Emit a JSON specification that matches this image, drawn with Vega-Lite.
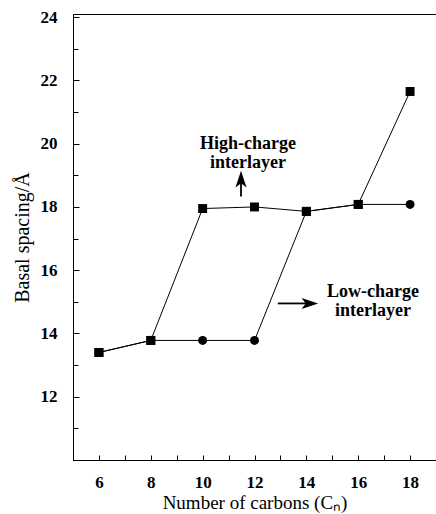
{
  "$schema": "https://vega.github.io/schema/vega-lite/v6.json",
  "width": 363,
  "height": 446,
  "autosize": {"type": "none"},
  "padding": {"left": 73, "top": 14, "right": 0, "bottom": 54},
  "background": "white",
  "config": {
    "view": {"stroke": "black", "strokeWidth": 1},
    "axis": {
      "grid": false,
      "domainColor": "black",
      "tickColor": "black",
      "labelColor": "black",
      "titleColor": "black",
      "labelFont": "Liberation Serif",
      "labelFontWeight": "bold",
      "labelFontSize": 17,
      "titleFont": "Liberation Serif",
      "titleFontWeight": "normal",
      "titleFontSize": 20,
      "labelOverlap": false,
      "labelFlush": false
    }
  },
  "resolve": {"axis": {"x": "independent", "y": "independent"}},
  "datasets": {
    "series": [
      {"series": "High-charge", "carbons": 6, "spacing": 13.4, "marker": "square"},
      {"series": "High-charge", "carbons": 8, "spacing": 13.78, "marker": "square"},
      {"series": "High-charge", "carbons": 10, "spacing": 17.95, "marker": "square"},
      {"series": "High-charge", "carbons": 12, "spacing": 18.0, "marker": "square"},
      {"series": "High-charge", "carbons": 14, "spacing": 17.86, "marker": "square"},
      {"series": "High-charge", "carbons": 16, "spacing": 18.08, "marker": "square"},
      {"series": "High-charge", "carbons": 18, "spacing": 21.65, "marker": "square"},
      {"series": "Low-charge", "carbons": 6, "spacing": 13.4, "marker": "square"},
      {"series": "Low-charge", "carbons": 8, "spacing": 13.78, "marker": "square"},
      {"series": "Low-charge", "carbons": 10, "spacing": 13.78, "marker": "circle"},
      {"series": "Low-charge", "carbons": 12, "spacing": 13.78, "marker": "circle"},
      {"series": "Low-charge", "carbons": 14, "spacing": 17.86, "marker": "square"},
      {"series": "Low-charge", "carbons": 16, "spacing": 18.08, "marker": "square"},
      {"series": "Low-charge", "carbons": 18, "spacing": 18.08, "marker": "circle"}
    ],
    "labels": [
      {"label": "High-charge", "carbons": 11.75, "spacing": 20.0},
      {"label": "interlayer", "carbons": 11.75, "spacing": 19.38},
      {"label": "Low-charge", "carbons": 16.57, "spacing": 15.3},
      {"label": "interlayer", "carbons": 16.57, "spacing": 14.7}
    ],
    "arrows": [
      {"arrow": "up", "x1": 11.48, "y1": 18.33, "x2": 11.48, "y2": 18.85, "hx": 11.48, "hy": 18.85, "angle": 0},
      {"arrow": "right", "x1": 12.9, "y1": 14.95, "x2": 14.1, "y2": 14.95, "hx": 14.1, "hy": 14.95, "angle": 90}
    ]
  },
  "layer": [
    {
      "data": {"name": "series"},
      "mark": {"type": "line", "color": "black", "strokeWidth": 1},
      "encoding": {
        "x": {
          "field": "carbons", "type": "quantitative",
          "scale": {"domain": [5, 19], "nice": false, "zero": false},
          "axis": {
            "orient": "bottom",
            "title": "Number of carbons (Cₙ)",
            "titleFontSize": 19,
            "values": [6, 8, 10, 12, 14, 16, 18],
            "tickSize": -5,
            "labelPadding": 19,
            "titlePadding": 3
          }
        },
        "y": {
          "field": "spacing", "type": "quantitative",
          "scale": {"domain": [10, 24.1], "nice": false, "zero": false},
          "axis": {
            "orient": "left",
            "title": "Basal spacing/Å",
            "values": [12, 14, 16, 18, 20, 22, 24],
            "tickSize": -6,
            "labelPadding": 22,
            "titlePadding": 8
          }
        },
        "detail": {"field": "series"}
      }
    },
    {
      "data": {"name": "series"},
      "mark": {"type": "point", "filled": true, "color": "black", "opacity": 1, "size": 80},
      "encoding": {
        "x": {
          "field": "carbons", "type": "quantitative",
          "axis": {"orient": "bottom", "title": null, "labels": false, "domain": false, "values": [5, 7, 9, 11, 13, 15, 17, 19], "tickSize": -5}
        },
        "y": {
          "field": "spacing", "type": "quantitative",
          "axis": {"orient": "left", "title": null, "labels": false, "domain": false, "values": [11, 13, 15, 17, 19, 21, 23], "tickSize": -5}
        },
        "shape": {
          "field": "marker", "type": "nominal",
          "scale": {"domain": ["square", "circle"], "range": ["square", "circle"]},
          "legend": null
        }
      }
    },
    {
      "data": {"name": "labels"},
      "mark": {"type": "text", "font": "Liberation Serif", "fontWeight": "bold", "fontSize": 18, "color": "black", "align": "center", "baseline": "middle"},
      "encoding": {
        "x": {"field": "carbons", "type": "quantitative", "axis": null},
        "y": {"field": "spacing", "type": "quantitative", "axis": null},
        "text": {"field": "label"}
      }
    },
    {
      "data": {"name": "arrows"},
      "mark": {"type": "rule", "color": "black", "strokeWidth": 1.8},
      "encoding": {
        "x": {"field": "x1", "type": "quantitative", "axis": null},
        "y": {"field": "y1", "type": "quantitative", "axis": null},
        "x2": {"field": "x2"},
        "y2": {"field": "y2"}
      }
    },
    {
      "data": {"name": "arrows"},
      "mark": {"type": "point", "filled": true, "color": "black", "opacity": 1, "size": 340, "shape": "M0,-1L0.6,0.8L0,0.35L-0.6,0.8Z"},
      "encoding": {
        "x": {"field": "hx", "type": "quantitative", "axis": null},
        "y": {"field": "hy", "type": "quantitative", "axis": null},
        "angle": {"field": "angle", "type": "quantitative", "scale": null}
      }
    }
  ]
}
